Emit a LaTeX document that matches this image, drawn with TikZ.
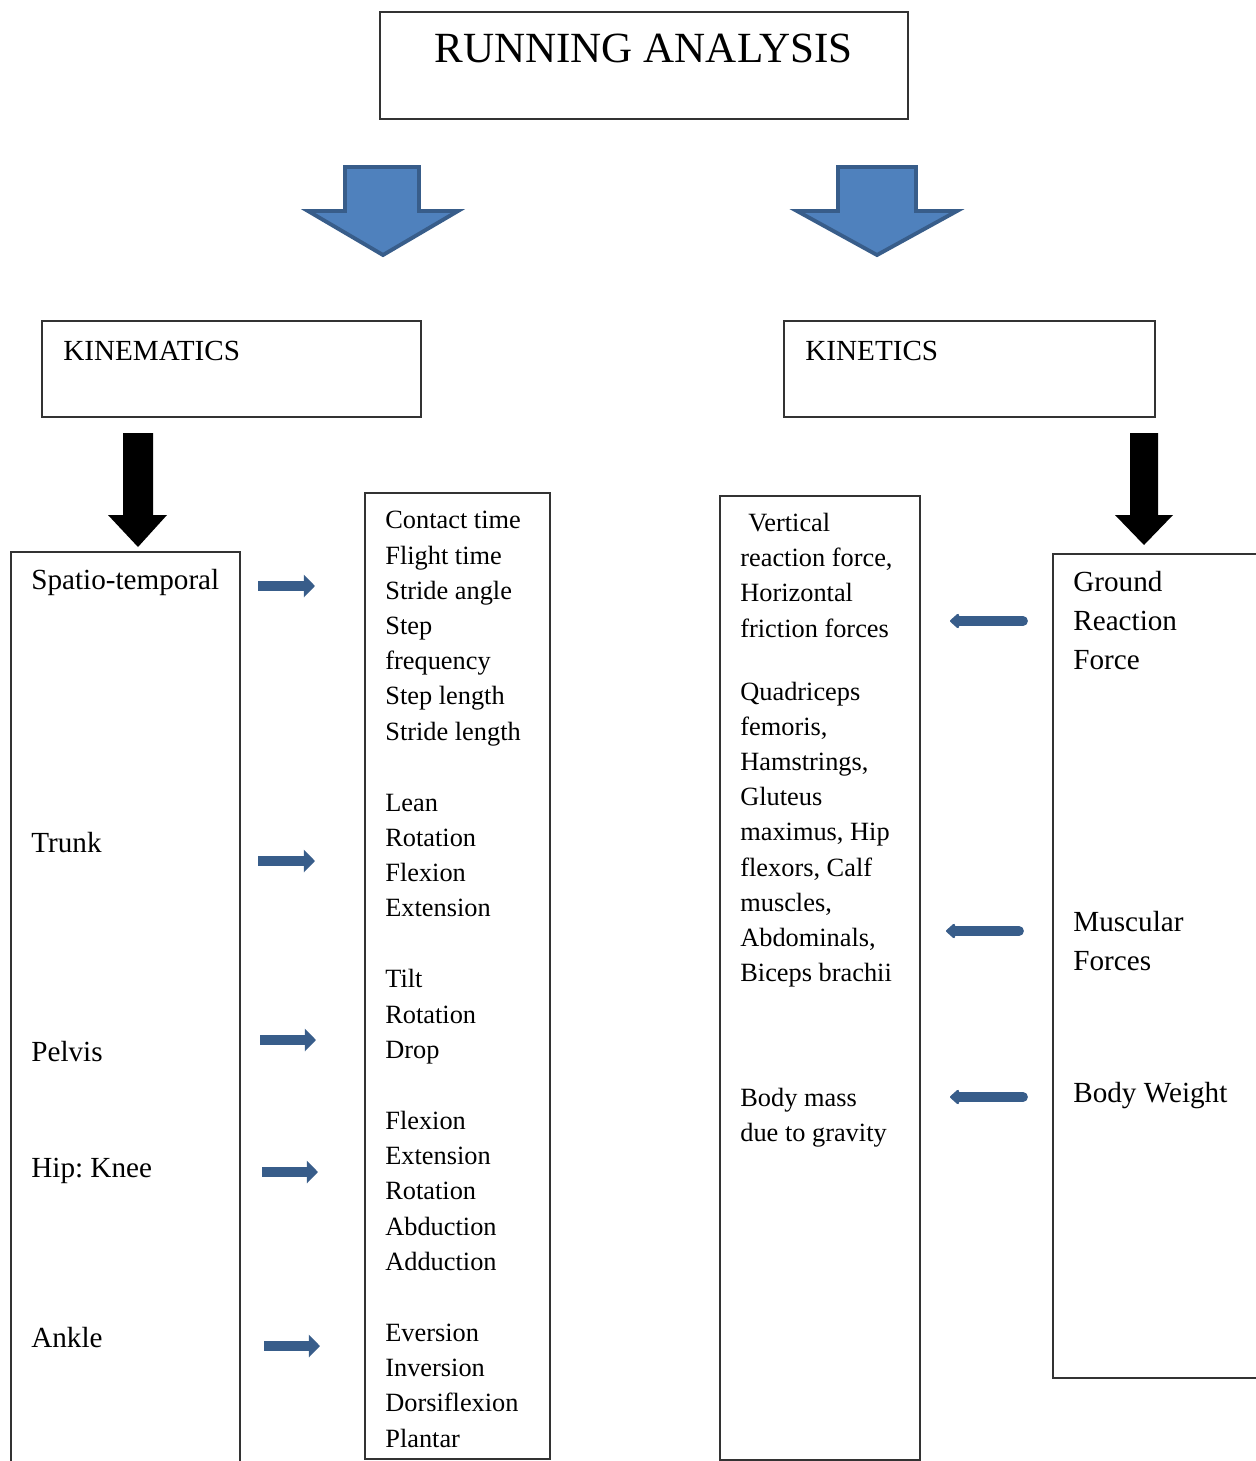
\documentclass[tikz,border=0pt]{standalone}
\usepackage{fontspec}
\setmainfont{Liberation Serif}
\usetikzlibrary{arrows.meta}
\definecolor{arrowfill}{HTML}{4F81BD}
\definecolor{arrowline}{HTML}{385D8A}
\tikzset{
  frame/.style={draw=black!80, line width=0.7pt},
  bigarrow/.style={fill=arrowfill, draw=arrowline, line width=2.2pt, line join=miter},
  blackarrow/.style={fill=black},
  rightarrow/.style={draw=arrowline, line width=5.6pt, -{Triangle[length=6.3pt,width=12.5pt]}},
  leftarrow/.style={draw=arrowline, line width=5.6pt, line cap=round, -{Triangle[length=5.5pt,width=9.5pt,round]}},
  % multi-line nodes: base = baseline of the last line
  headtext/.style={anchor=base west, inner sep=0pt, align=left, font=\fontsize{16.6}{22.1}\selectfont},
  listtext/.style={anchor=base west, inner sep=0pt, align=left, font=\fontsize{15}{20.04}\selectfont},
}
\begin{document}
\begin{tikzpicture}[x=0.02cm, y=-0.02cm]
\path[use as bounding box, clip] (0,0) rectangle (1256,1461);

% title
\path[frame] (380,12) rectangle (908,119);
\node[anchor=base, inner sep=0pt, font=\fontsize{24.5}{29}\selectfont] (title) at (643.5,62) {RUNNING ANALYSIS};

% big arrows
\path[bigarrow] (345,167) -- (419,167) -- (419,211) -- (458,211) -- (383,255) -- (308,211) -- (345,211) -- cycle;
\path[bigarrow] (838,167) -- (916,167) -- (916,211) -- (957,211) -- (877,255) -- (797,211) -- (838,211) -- cycle;

% branches
\path[frame] (42,321) rectangle (421,417);
\path[frame] (784,321) rectangle (1155,417);
\node[headtext] (kinematics) at (63,360) {KINEMATICS};
\node[headtext] (kinetics) at (805,360) {KINETICS};

\path[blackarrow] (123,433) -- (153,433) -- (153,515) -- (167,515) -- (138,547) -- (108,515) -- (123,515) -- cycle;
\path[blackarrow] (1130,433) -- (1158,433) -- (1158,515) -- (1173,515) -- (1144,545) -- (1115,515) -- (1130,515) -- cycle;

% columns
\path[frame] (11,552) rectangle (240,1480);
\path[frame] (365,493) rectangle (550,1459);
\path[frame] (720,496) rectangle (920,1460);
\path[frame] (1053,554) rectangle (1280,1378);

% kinematics column
\node[headtext] (spatio) at (31,589) {Spatio-temporal};
\node[headtext] (trunk) at (31,852) {Trunk};
\node[headtext] (pelvis) at (31,1061) {Pelvis};
\node[headtext] (hipknee) at (31,1177) {Hip:\ Knee};
\node[headtext] (ankle) at (31,1347) {Ankle};

\path[rightarrow] (258,586) -- (315,586);
\path[rightarrow] (258,861) -- (315,861);
\path[rightarrow] (260,1040) -- (316,1040);
\path[rightarrow] (262,1172) -- (318,1172);
\path[rightarrow] (264,1346) -- (320,1346);

\node[listtext] (spatiolist) at (385,740.1) {Contact time\\Flight time\\Stride angle\\Step\\frequency\\Step length\\Stride length};
\node[listtext] (trunklist) at (385,916.9) {Lean\\Rotation\\Flexion\\Extension};
\node[listtext] (pelvislist) at (385,1058.3) {Tilt\\Rotation\\Drop};
\node[listtext] (hipknelist) at (385,1270.4) {Flexion\\Extension\\Rotation\\Abduction\\Adduction};
\node[listtext] (anklelist) at (385,1447) {Eversion\\Inversion\\Dorsiflexion\\Plantar};

% kinetics column
\node[headtext] (grf) at (1073,669) {Ground\\Reaction\\Force};
\node[headtext] (muscular) at (1073,970) {Muscular\\Forces};
\node[headtext] (weight) at (1073,1102) {Body Weight};

\path[leftarrow] (1023,621) -- (950,621);
\path[leftarrow] (1019,931) -- (946,931);
\path[leftarrow] (1023,1097) -- (950,1097);

\node[listtext] (grflist) at (740,637) {\hspace*{4.5pt}Vertical\\reaction force,\\Horizontal\\friction forces};
\node[listtext] (muscularlist) at (740,981.8) {Quadriceps\\femoris,\\Hamstrings,\\Gluteus\\maximus, Hip\\flexors, Calf\\muscles,\\Abdominals,\\Biceps brachii};
\node[listtext] (weightlist) at (740,1141.4) {Body mass\\due to gravity};
\end{tikzpicture}
\end{document}
